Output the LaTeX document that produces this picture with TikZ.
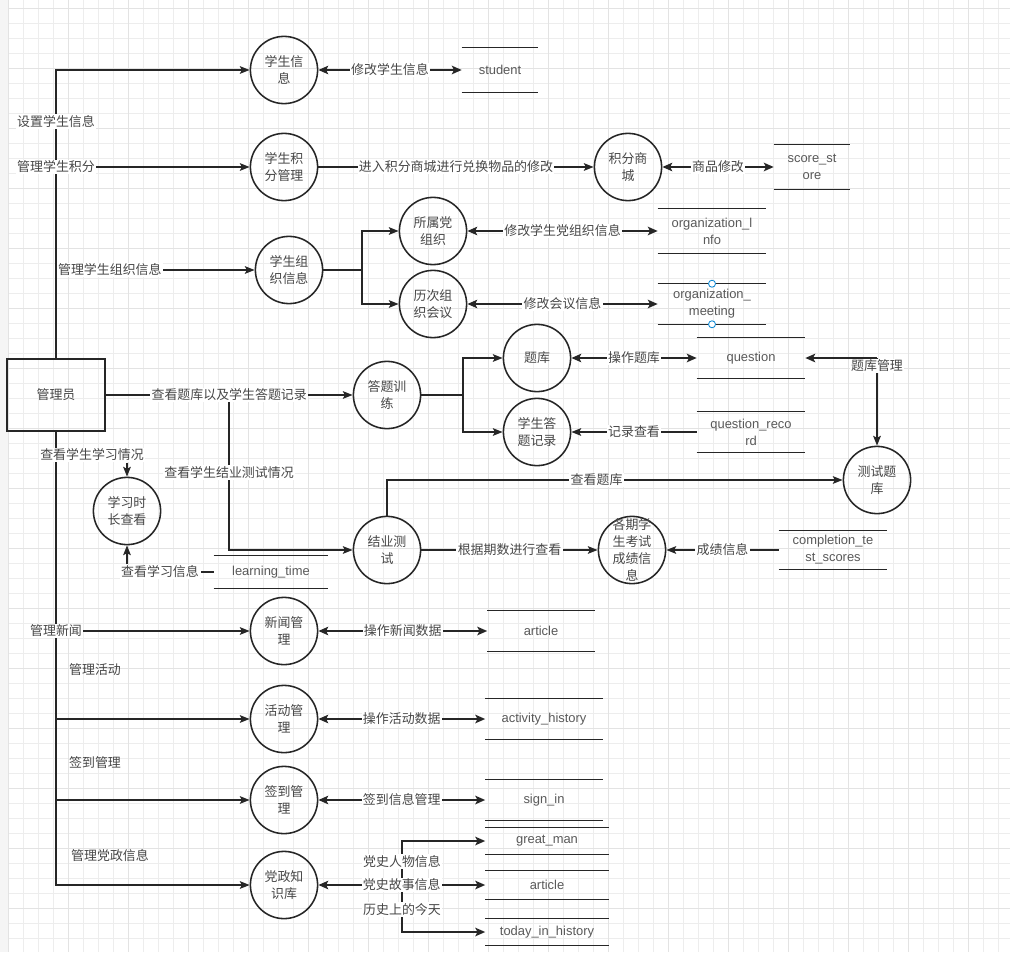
\documentclass[tikz,border=0pt]{standalone}
\usepackage{fontspec}
\setmainfont{Liberation Sans}
\newfontfamily\cjk{Noto Sans CJK SC}
\usetikzlibrary{arrows.meta}

\tikzset{
  proc/.style={circle,draw=black!85,line width=1.1pt,minimum size=1.68cm,inner sep=0pt,align=center,font=\cjk\fontsize{9.2}{12}\selectfont,text=black!72},
  ext/.style={rectangle,draw=black!85,line width=1.1pt,minimum width=2.45cm,minimum height=1.8cm,font=\cjk\fontsize{9.2}{12}\selectfont,text=black!72},
  store/.style={inner sep=0pt,align=center,font=\fontsize{9.2}{12}\selectfont,text=black!65},
  lbl/.style={fill=white,inner sep=1pt,font=\cjk\fontsize{9.2}{12}\selectfont,text=black!72},
  note/.style={inner sep=1pt,font=\cjk\fontsize{9.2}{12}\selectfont,text=black!72},
  wire/.style={draw=black!85,line width=1pt},
  flow/.style={wire,-{Stealth[length=7pt,width=5.5pt,inset=1.5pt]}},
  bold flow/.style={draw=black!85,line width=2pt,-{Stealth[length=7pt,width=6pt,inset=1.5pt]}},
  duplex/.style={draw=black!85,line width=2pt,{Stealth[length=7pt,width=6pt,inset=1.5pt]}-{Stealth[length=7pt,width=6pt,inset=1.5pt]}},
  gridminor/.style={draw=black!7,line width=0.4pt},
  gridmajor/.style={draw=black!11,line width=0.5pt},
}

\begin{document}
\begin{tikzpicture}[x=0.025cm,y=-0.025cm]
\useasboundingbox (0,0) rectangle (1010,952);
% background grid
\fill[white] (0,0) rectangle (1010,952);
\foreach \i in {8,23,...,1010} \draw[gridminor] (\i,0) -- (\i,952);
\foreach \j in {8,23,...,952} \draw[gridminor] (0,\j) -- (1010,\j);
\foreach \i in {8,68,...,1010} \draw[gridmajor] (\i,0) -- (\i,952);
\foreach \j in {8,68,...,952} \draw[gridmajor] (0,\j) -- (1010,\j);
\fill[black!4] (0,0) rectangle (8,952);

% processes
\node[ext] (admin) at (56,395) {管理员};
\node[proc] (stuinfo) at (284,70) {学生信\\息};
\node[proc] (stuscore) at (284,167) {学生积\\分管理};
\node[proc] (stuorg) at (289,270) {学生组\\织信息};
\node[proc] (partyorg) at (433,231) {所属党\\组织};
\node[proc] (meeting) at (433,304) {历次组\\织会议};
\node[proc] (mall) at (628,167) {积分商\\城};
\node[proc] (train) at (387,395) {答题训\\练};
\node[proc] (qbank) at (537,358) {题库};
\node[proc] (qrec) at (537,432) {学生答\\题记录};
\node[proc] (testbank) at (877,480) {测试题\\库};
\node[proc] (studytime) at (127,511) {学习时\\长查看};
\node[proc] (final) at (387,550) {结业测\\试};
\node[proc,inner sep=-4pt] (scores) at (632,550) {各期学\\生考试\\成绩信\\息};
\node[proc] (news) at (284,631) {新闻管\\理};
\node[proc] (activity) at (284,719) {活动管\\理};
\node[proc] (signmgr) at (284,800) {签到管\\理};
\node[proc] (party) at (284,885) {党政知\\识库};

% data stores
\node[store,minimum width=1.9cm,minimum height=1.125cm] (student) at (500,70) {student};
\node[store,minimum width=1.9cm,minimum height=1.125cm] (scorestore) at (812,167) {score\_st\\ore};
\node[store,minimum width=2.7cm,minimum height=1.125cm] (orginfo) at (712,231) {organization\_l\\nfo};
\node[store,minimum width=2.7cm,minimum height=1cm] (orgmeeting) at (712,304) {organization\_\\meeting};
\node[store,minimum width=2.7cm,minimum height=1cm] (question) at (751,358) {question};
\node[store,minimum width=2.7cm,minimum height=1cm] (qrecord) at (751,432) {question\_reco\\rd};
\node[store,minimum width=2.7cm,minimum height=0.95cm] (testscores) at (833,550) {completion\_te\\st\_scores};
\node[store,minimum width=2.85cm,minimum height=0.8cm] (learntime) at (271,572) {learning\_time};
\node[store,minimum width=2.675cm,minimum height=1cm] (article) at (541,631) {article};
\node[store,minimum width=2.925cm,minimum height=1cm] (acthistory) at (544,719) {activity\_history};
\node[store,minimum width=2.925cm,minimum height=1cm] (signin) at (544,800) {sign\_in};
\node[store,minimum width=3.075cm,minimum height=0.65cm] (greatman) at (547,841) {great\_man};
\node[store,minimum width=3.075cm,minimum height=0.7cm] (partyarticle) at (547,885) {article};
\node[store,minimum width=3.075cm,minimum height=0.65cm] (today) at (547,932) {today\_in\_history};
\foreach \s in {student,scorestore,orginfo,orgmeeting,question,qrecord,testscores,learntime,article,acthistory,signin,greatman,partyarticle,today}
  \draw[wire] (\s.north west) -- (\s.north east) (\s.south west) -- (\s.south east);
\draw[cyan!70!blue,fill=white,line width=0.6pt] (orgmeeting.north) circle (3.5) (orgmeeting.south) circle (3.5);

% student info
\draw[flow] (admin.north) |- node[lbl,pos=0.41] {设置学生信息} (stuinfo);
\draw[flow] (admin.north |- stuscore) -- node[lbl,pos=0] {管理学生积分} (stuscore);
\draw[flow] (admin.north |- stuorg) -- node[lbl,pos=0,anchor=west] {管理学生组织信息} (stuorg);
\draw[duplex] (stuinfo) -- node[lbl] {修改学生信息} (student);
\draw[flow] (stuscore) -- node[lbl] {进入积分商城进行兑换物品的修改} (mall);
\draw[duplex] (mall) -- node[lbl] {商品修改} (scorestore);
\coordinate (orgfork) at (362,270);
\draw[wire] (stuorg) -- (orgfork);
\draw[flow] (orgfork) |- (partyorg);
\draw[flow] (orgfork) |- (meeting);
\draw[duplex] (partyorg) -- node[lbl] {修改学生党组织信息} (orginfo);
\draw[duplex] (meeting) -- node[lbl] {修改会议信息} (orgmeeting);

% question training and final test
\coordinate (trainsplit) at (229,395);
\draw[flow] (trainsplit) |- node[lbl,pos=0.25] {查看学生结业测试情况} (final);
\draw[flow] (admin) -- node[lbl] {查看题库以及学生答题记录} (train);
\coordinate (qfork) at (463,395);
\draw[wire] (train) -- (qfork);
\draw[flow] (qfork) |- (qbank);
\draw[flow] (qfork) |- (qrec);
\draw[duplex] (qbank) -- node[lbl] {操作题库} (question);
\draw[flow] (qrecord) -- node[lbl] {记录查看} (qrec);
\coordinate (qmgr) at (877,358);
\draw[bold flow] (qmgr) -- (question);
\draw[flow] (qmgr) -- (testbank);
\node[lbl] (qmgrlbl) at (877,366) {题库管理};
\draw[flow] (final) |- node[lbl,pos=0.73] {查看题库} (testbank);
\draw[flow] (final) -- node[lbl] {根据期数进行查看} (scores);
\draw[flow] (testscores) -- node[lbl] {成绩信息} (scores);

% study time
\draw[flow] (admin.south) |- (party);
\node[lbl] (lookstudy) at (92,455) {查看学生学习情况};
\draw[flow] (lookstudy.south -| studytime) -- (studytime);
\node[lbl] (lookinfo) at (160,572) {查看学习信息};
\draw[wire] (learntime) -- (lookinfo);
\draw[flow] (lookinfo.north -| studytime) -- (studytime);

% news, activity, sign in, party knowledge
\draw[flow] (admin.south |- news) -- node[lbl,pos=0] {管理新闻} (news);
\draw[flow] (admin.south |- activity) -- (activity);
\draw[flow] (admin.south |- signmgr) -- (signmgr);
\node[note] (actnote) at (95,670) {管理活动};
\node[note] (signnote) at (95,763) {签到管理};
\node[note] (partynote) at (110,856) {管理党政信息};
\draw[duplex] (news) -- node[lbl] {操作新闻数据} (article);
\draw[duplex] (activity) -- node[lbl] {操作活动数据} (acthistory);
\draw[duplex] (signmgr) -- node[lbl] {签到信息管理} (signin);
\coordinate (histsplit) at (402,885);
\draw[bold flow] (histsplit) |- node[lbl,pos=0.27] {党史人物信息} (greatman);
\draw[bold flow] (histsplit) |- node[lbl,pos=0.26] {历史上的今天} (today);
\draw[duplex] (party) -- node[lbl] {党史故事信息} (partyarticle);
\end{tikzpicture}
\end{document}
